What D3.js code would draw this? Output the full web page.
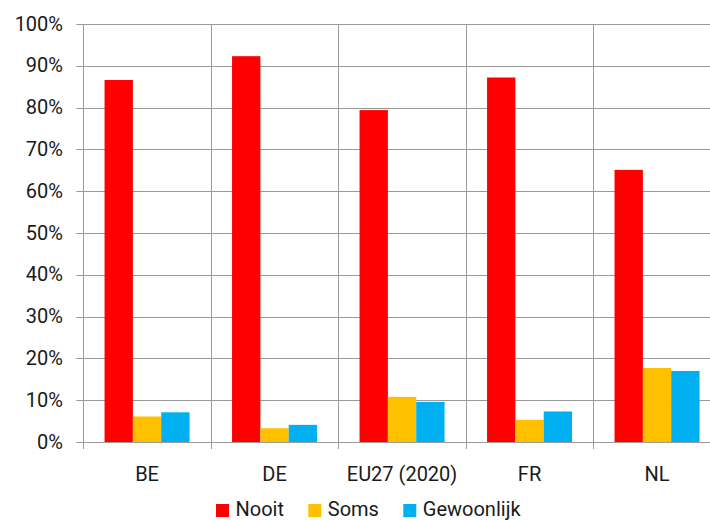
<!DOCTYPE html>
<html><head><meta charset="utf-8">
<script src="https://cdn.jsdelivr.net/npm/d3@7"></script>
<style>body{margin:0;background:#fff}svg{display:block}text{font-family:Roboto,"Liberation Sans",sans-serif;fill:#1a1a1a}</style>
</head><body><svg id="c" width="710" height="520"></svg>
<script>
const categories = ["BE","DE","EU27 (2020)","FR","NL"];
const seriesNames = ["Nooit","Soms","Gewoonlijk"];
const nooit = [86.6, 92.3, 79.4, 87.2, 65.1];
const soms = [6.1, 3.3, 10.8, 5.3, 17.7];
const gewoonlijk = [7.1, 4.1, 9.6, 7.3, 17.0];
const colors = ["#FF0000","#FFC000","#00B0F0"];
const yTicks = [0,10,20,30,40,50,60,70,80,90,100];

(function(){
const values = [nooit, soms, gewoonlijk];
const svg = d3.select("#c");
const pl = 83.3, pr = 720.8, pt = 24, pb = 442;
const x = d3.scaleBand().domain(categories).range([pl, pr]).padding(0);
const xs = d3.scaleBand().domain(seriesNames).range([0, x.bandwidth()]).paddingInner(0).paddingOuter(0.75);
const y = d3.scaleLinear().domain([0,100]).range([pb, pt]);

svg.append("g").selectAll("line").data(yTicks).join("line")
  .attr("x1", pl - 7).attr("x2", 710)
  .attr("y1", d => Math.round(y(d)) + 0.5).attr("y2", d => Math.round(y(d)) + 0.5)
  .attr("stroke", "#9a9a9a").attr("stroke-width", 1);
const seps = categories.map(c => x(c)).concat([x(categories[categories.length-1]) + x.bandwidth()]);
svg.append("g").selectAll("line").data(seps).join("line")
  .attr("x1", d => Math.round(d) + 0.5).attr("x2", d => Math.round(d) + 0.5)
  .attr("y1", pt).attr("y2", pb + 7)
  .attr("stroke", "#9a9a9a").attr("stroke-width", 1);

const rows = [];
categories.forEach((c, i) => seriesNames.forEach((s, j) => rows.push({c, s, v: values[j][i], col: colors[j]})));
svg.append("g").selectAll("rect").data(rows).join("rect")
  .attr("x", d => x(d.c) + xs(d.s)).attr("width", xs.bandwidth())
  .attr("y", d => y(d.v)).attr("height", d => y(0) - y(d.v))
  .attr("fill", d => d.col);

svg.append("g").selectAll("text").data(yTicks).join("text")
  .attr("x", 63).attr("y", d => y(d) + 6.5)
  .attr("text-anchor", "end").style("font-size", "20px")
  .text(d => d + "%");
svg.append("g").selectAll("text").data(categories).join("text")
  .attr("x", d => x(d) + x.bandwidth()/2).attr("y", 481)
  .attr("text-anchor", "middle").style("font-size", "20px")
  .text(d => d);

const legX = [216, 308.3, 403.3];
const lg = svg.append("g").selectAll("g").data(seriesNames).join("g")
  .attr("transform", (d, i) => `translate(${legX[i]},0)`);
lg.append("rect").attr("x", 0).attr("y", 504).attr("width", 13).attr("height", 13)
  .attr("fill", (d, i) => colors[i]);
lg.append("text").attr("x", 19.5).attr("y", 516).style("font-size", "20px").text(d => d);
})();
</script></body></html>
